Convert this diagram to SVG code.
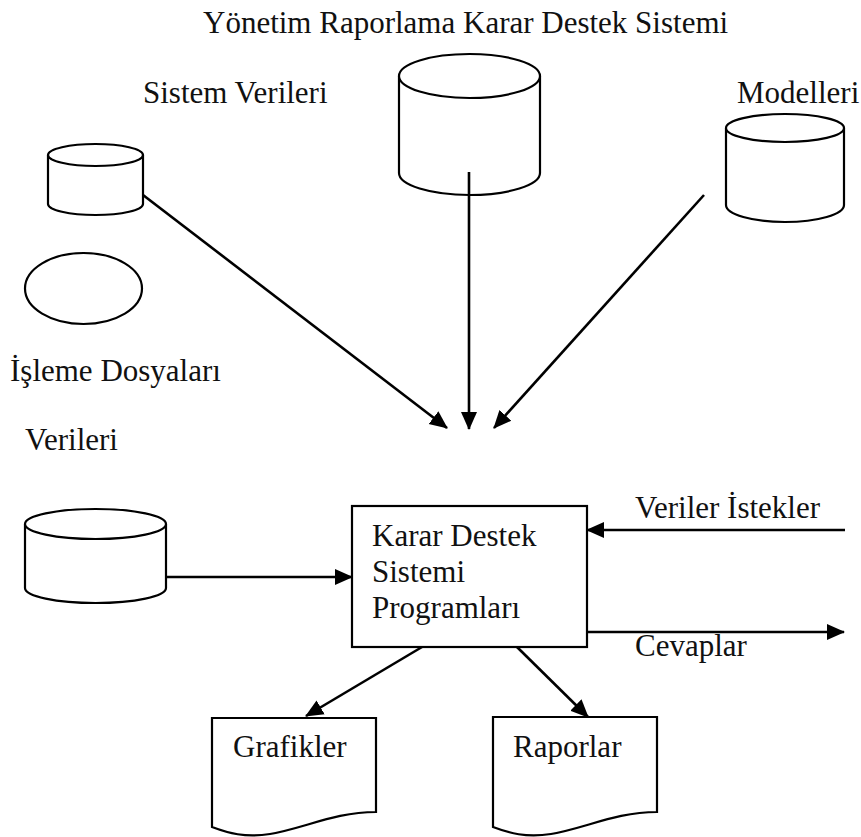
<svg xmlns="http://www.w3.org/2000/svg" width="861" height="837" viewBox="0 0 861 837">
  <style>
    .shape { fill: #ffffff; stroke: #000000; stroke-width: 2.2; }
    .edge { fill: none; stroke: #000000; stroke-width: 2.6; }
    .lbl { font-family: "Liberation Serif", "Times New Roman", serif; font-size: 31px; fill: #111111; }
  </style>
  <defs>
    <marker id="arrow" markerUnits="userSpaceOnUse" markerWidth="18" markerHeight="18" viewBox="0 0 18 16" refX="17" refY="8" orient="auto">
      <path d="M0,0 L18,8 L0,16 Z" fill="#000000"/>
    </marker>
  </defs>
  <rect width="861" height="837" fill="#ffffff"/>

  <!-- free-standing labels -->
  <text class="lbl" x="203" y="33">Yönetim Raporlama Karar Destek Sistemi</text>
  <text class="lbl" x="143" y="103">Sistem Verileri</text>
  <text class="lbl" x="737" y="103">Modelleri</text>
  <text class="lbl" x="10" y="381">İşleme Dosyaları</text>
  <text class="lbl" x="25" y="450">Verileri</text>

  <!-- system data store -->
  <g id="sistem-verileri">
    <path class="shape" d="M48,155 V204 A47.5,11 0 0 0 143,204 V155"/>
    <ellipse class="shape" cx="95.5" cy="155" rx="47.5" ry="11"/>
  </g>

  <!-- transaction files -->
  <g id="isleme-dosyalari">
    <ellipse class="shape" cx="83.5" cy="288.5" rx="58.5" ry="35.5"/>
  </g>

  <!-- management reporting store -->
  <g id="yonetim-raporlama">
    <path class="shape" d="M399,76 V173 A70.5,22 0 0 0 540,173 V76"/>
    <ellipse class="shape" cx="469.5" cy="76" rx="70.5" ry="22"/>
  </g>

  <!-- models store -->
  <g id="modelleri">
    <path class="shape" d="M726,128 V205 A59,17 0 0 0 844,205 V128"/>
    <ellipse class="shape" cx="785" cy="128" rx="59" ry="14"/>
  </g>

  <!-- data store -->
  <g id="verileri">
    <path class="shape" d="M25,524 V588 A70.5,15 0 0 0 166,588 V524"/>
    <ellipse class="shape" cx="95.5" cy="524" rx="70.5" ry="15"/>
  </g>

  <!-- decision support programs -->
  <g id="karar-destek">
    <rect class="shape" x="352" y="506" width="235" height="141"/>
    <text class="lbl" x="372" y="546">Karar Destek</text>
    <text class="lbl" x="372" y="582">Sistemi</text>
    <text class="lbl" x="372" y="618">Programları</text>
  </g>

  <!-- output documents -->
  <g id="grafikler">
    <path class="shape" d="M212,718 H376 V812 C335,812 305,828 270,834 C245,838 228,833 212,827 Z"/>
    <text class="lbl" x="233" y="757">Grafikler</text>
  </g>
  <g id="raporlar">
    <path class="shape" d="M493,717 H657 V812 C616,812 586,828 551,834 C526,838 509,833 493,827 Z"/>
    <text class="lbl" x="513" y="757">Raporlar</text>
  </g>

  <g id="edge-labels">
    <text class="lbl" x="635" y="518">Veriler İstekler</text>
    <text class="lbl" x="635" y="656">Cevaplar</text>
  </g>

  <!-- connectors -->
  <g id="connectors">
    <line class="edge" x1="143" y1="195" x2="447" y2="428" marker-end="url(#arrow)"/>
    <line class="edge" x1="469" y1="172" x2="469" y2="429" marker-end="url(#arrow)"/>
    <line class="edge" x1="704" y1="195" x2="494" y2="428" marker-end="url(#arrow)"/>
    <line class="edge" x1="166" y1="577" x2="352" y2="577" marker-end="url(#arrow)"/>
    <line class="edge" x1="845" y1="530" x2="587" y2="530" marker-end="url(#arrow)"/>
    <line class="edge" x1="587" y1="632" x2="844" y2="632" marker-end="url(#arrow)"/>
    <line class="edge" x1="422" y1="647" x2="306" y2="716" marker-end="url(#arrow)"/>
    <line class="edge" x1="517" y1="647" x2="588" y2="717" marker-end="url(#arrow)"/>
  </g>
</svg>
